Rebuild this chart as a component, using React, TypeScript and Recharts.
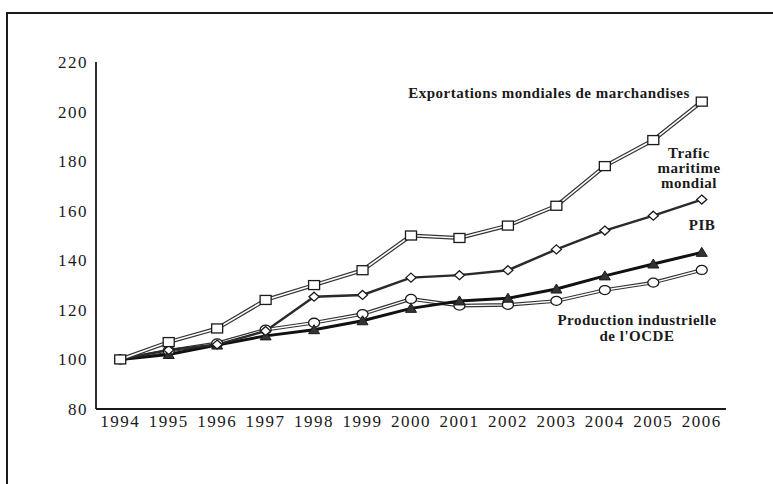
import { ComposedChart, Line, XAxis, YAxis } from 'recharts'

const YEARS = [1994, 1995, 1996, 1997, 1998, 1999, 2000, 2001, 2002, 2003, 2004, 2005, 2006]
const EXPORTATIONS = [100, 107, 112.5, 124, 130, 136, 150, 149, 154, 162, 178, 188.5, 204]
const TRAFIC = [100, 103.8, 106, 111.5, 125.3, 126, 133, 134, 136, 144.4, 152, 158, 164.5]
const PIB = [100, 102, 105.8, 109.5, 112, 115.6, 120.6, 123.6, 124.7, 128.4, 133.7, 138.5, 143.2]
const OCDE = [100, 103.5, 106.5, 112, 114.8, 118.3, 124.4, 121.7, 122, 123.6, 128, 131, 136.1]
const Y_TICKS = [80, 100, 120, 140, 160, 180, 200, 220]
// tick marks sit between the years
const YEAR_BOUNDS = [1994.5, 1995.5, 1996.5, 1997.5, 1998.5, 1999.5, 2000.5, 2001.5, 2002.5, 2003.5, 2004.5, 2005.5, 2006.5]

const data = YEARS.map((year, i) => ({
  year,
  exportations: EXPORTATIONS[i],
  trafic: TRAFIC[i],
  pib: PIB[i],
  ocde: OCDE[i],
}))

const FONT = '"Liberation Serif", "DejaVu Serif", serif'
const INK = '#1a1a1a'

const squareDot = (p: any) => (
  <rect key={`sq${p.index}`} x={p.cx - 5.5} y={p.cy - 4.5} width={11} height={9} fill="#fff" stroke={INK} strokeWidth={1.3} />
)
const circleDot = (p: any) => (
  <ellipse key={`ci${p.index}`} cx={p.cx} cy={p.cy} rx={5.5} ry={4.5} fill="#fff" stroke={INK} strokeWidth={1.3} />
)
const diamondDot = (p: any) => (
  <path key={`di${p.index}`} d={`M${p.cx} ${p.cy - 4.5} L${p.cx + 5} ${p.cy} L${p.cx} ${p.cy + 4.5} L${p.cx - 5} ${p.cy} Z`} fill="#fff" stroke={INK} strokeWidth={1.3} />
)
const triangleDot = (p: any) => (
  <path key={`tr${p.index}`} d={`M${p.cx} ${p.cy - 5} L${p.cx + 5.5} ${p.cy + 4} L${p.cx - 5.5} ${p.cy + 4} Z`} fill="#333" stroke={INK} strokeWidth={1} />
)

const labelStyle: React.CSSProperties = {
  position: 'absolute',
  transform: 'translate(-50%, -50%)',
  fontFamily: FONT,
  fontSize: 15,
  fontWeight: 'bold',
  letterSpacing: 0.5,
  color: INK,
  textAlign: 'center',
  whiteSpace: 'nowrap',
  lineHeight: '15px',
}

const tickStyle = { fill: INK, fontSize: 17, fontFamily: FONT, letterSpacing: 1.5 }

export default function App() {
  return (
    <div style={{ position: 'relative', width: 773, height: 484, background: '#fff', overflow: 'hidden' }}>
      <style>{'html, body { margin: 0; overflow: hidden; }'}</style>
      <div style={{ position: 'absolute', left: 0, top: 0 }}>
        <ComposedChart
          width={750}
          height={484}
          data={data}
          accessibilityLayer={false}
          margin={{ top: 62, right: 24, bottom: 45, left: 36 }}
        >
          <XAxis
            xAxisId="marks"
            type="number"
            dataKey="year"
            domain={[1993.5, 2006.5]}
            ticks={YEAR_BOUNDS}
            tick={false}
            axisLine={false}
            tickSize={-4}
            tickLine={{ stroke: INK, strokeWidth: 1.5 }}
            height={0}
          />
          <XAxis
            type="number"
            dataKey="year"
            domain={[1993.5, 2006.5]}
            ticks={YEARS}
            interval={0}
            tickLine={false}
            tickMargin={0}
            axisLine={{ stroke: INK, strokeWidth: 1.8 }}
            tick={tickStyle}
            height={30}
          />
          <YAxis
            type="number"
            domain={[80, 220]}
            ticks={Y_TICKS}
            interval={0}
            tickLine={false}
            axisLine={{ stroke: INK, strokeWidth: 1.8 }}
            tick={tickStyle}
            width={60}
          />

          <Line type="linear" dataKey="ocde" stroke="#333" strokeWidth={3.6} dot={false} isAnimationActive={false} />
          <Line type="linear" dataKey="ocde" stroke="#fff" strokeWidth={1.4} dot={circleDot} isAnimationActive={false} />

          <Line type="linear" dataKey="pib" stroke="#111" strokeWidth={3} dot={triangleDot} isAnimationActive={false} />

          <Line type="linear" dataKey="trafic" stroke="#2a2a2a" strokeWidth={2.4} dot={diamondDot} isAnimationActive={false} />

          <Line type="linear" dataKey="exportations" stroke="#333" strokeWidth={4} dot={false} isAnimationActive={false} />
          <Line type="linear" dataKey="exportations" stroke="#fff" strokeWidth={1.6} dot={squareDot} isAnimationActive={false} />
        </ComposedChart>
      </div>

      {/* cadre */}
      <div style={{ position: 'absolute', left: 6, top: 12, width: 767, height: 2, background: INK, zIndex: 2 }} />
      <div style={{ position: 'absolute', left: 6, top: 12, width: 2, height: 472, background: INK, zIndex: 2 }} />

      <div style={{ ...labelStyle, left: 549, top: 93 }}>Exportations mondiales de marchandises</div>
      <div style={{ ...labelStyle, left: 689, top: 168 }}>Trafic<br />maritime<br />mondial</div>
      <div style={{ ...labelStyle, left: 702, top: 225 }}>PIB</div>
      <div style={{ ...labelStyle, left: 637, top: 328, lineHeight: '16px' }}>Production industrielle<br />de l'OCDE</div>
    </div>
  )
}
